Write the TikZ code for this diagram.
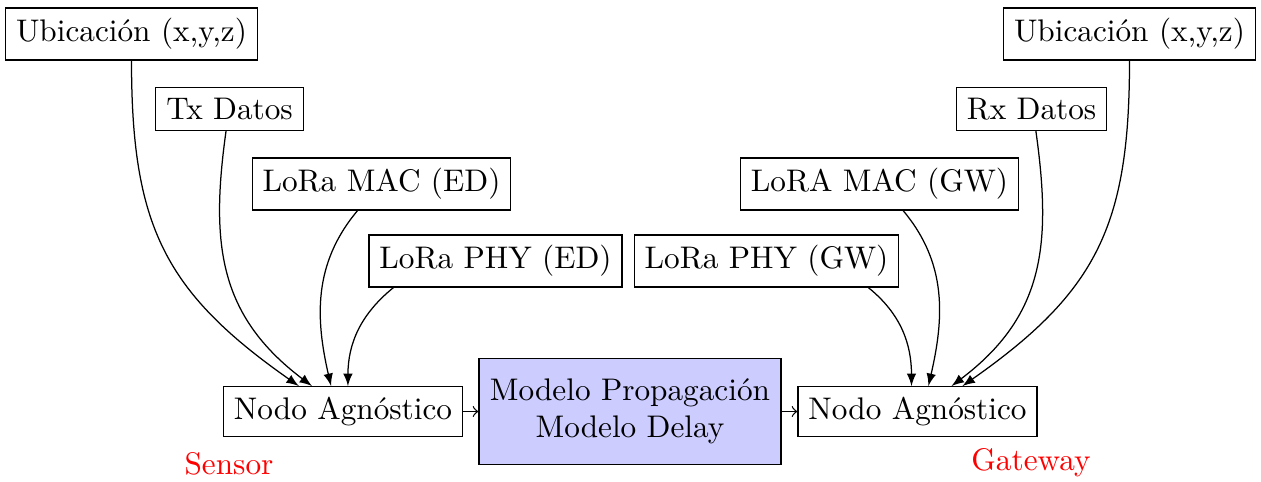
\documentclass[tikz,border=0pt]{standalone}
\begin{document}
\begin{tikzpicture}[x=0.32pt, y=-0.32pt,
  box/.style={draw, rectangle},
  model/.style={draw, fill=blue!20, align=center, minimum width=96.6pt, minimum height=33.9pt},
  role/.style={text=red, inner sep=0pt},
  feed/.style={-latex},
  link/.style={->}]
\useasboundingbox (0,0) rectangle (1261,481);

% sensor side inputs
\node[box] (ubiL)  at (131.5,34)  {Ubicación (x,y,z)};
\node[box] (tx)    at (229.5,109) {Tx Datos};
\node[box] (macED) at (381.5,184) {LoRa MAC (ED)};
\node[box] (phyED) at (495.5,261) {LoRa PHY (ED)};

% gateway side inputs
\node[box] (phyGW) at (766.5,261)  {LoRa PHY (GW)};
\node[box] (macGW) at (879.5,184)  {LoRA MAC (GW)};
\node[box] (rx)    at (1031.5,109) {Rx Datos};
\node[box] (ubiR)  at (1129.5,34)  {Ubicación (x,y,z)};

% channel chain
\node[box]   (nodoL) at (343,411.5)   {Nodo Agnóstico};
\node[model] (canal) at (630,411.5)   {Modelo Propagación\\Modelo Delay};
\node[box]   (nodoR) at (917.5,411.5) {Nodo Agnóstico};

\node[role] (sensor)  at (229,464)  {Sensor};
\node[role] (gateway) at (1031,463) {Gateway};

\draw[link] (nodoL) -- (canal);
\draw[link] (canal) -- (nodoR);

% inputs feeding the sensor node
\draw[feed] (ubiL.south) to[out=-90, in=145, looseness=1.15] ([xshift=24.3pt]nodoL.north west);
\draw[feed] ([xshift=-1.1pt]tx.south) to[out=-98, in=143, looseness=1.1] ([xshift=28.5pt]nodoL.north west);
\draw[feed] ([xshift=33.9pt]macED.south west) to[out=-130, in=103] ([xshift=34.6pt]nodoL.north west);
\draw[feed] ([xshift=8pt]phyED.south west) to[out=-141, in=90] ([xshift=40pt]nodoL.north west);

% inputs feeding the gateway node
\draw[feed] ([xshift=-9.9pt]phyGW.south east) to[out=-39, in=90] ([xshift=36.5pt]nodoR.north west);
\draw[feed] ([xshift=-37.1pt]macGW.south east) to[out=-50, in=77] ([xshift=41.9pt]nodoR.north west);
\draw[feed] ([xshift=1.4pt]rx.south) to[out=-82, in=37, looseness=1.1] ([xshift=49.3pt]nodoR.north west);
\draw[feed] (ubiR.south) to[out=-90, in=35, looseness=1.15] ([xshift=52.8pt]nodoR.north west);
\end{tikzpicture}
\end{document}
